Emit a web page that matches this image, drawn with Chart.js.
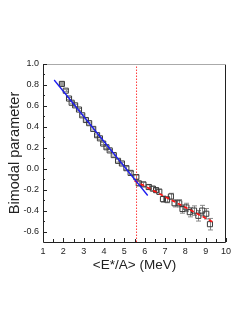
<!DOCTYPE html>
<html>
<head>
<meta charset="utf-8">
<script src="https://cdn.jsdelivr.net/npm/chart.js@4"></script>
<style>
  html, body { margin: 0; padding: 0; background: #fff; }
  #wrap { width: 243px; height: 324px; }
</style>
</head>
<body>
<div id="wrap"><canvas id="chartBimodal"></canvas></div>
<script>
// measured points: excitation energy, bimodal parameter, error
const energy = [
    1.93, 2.12, 2.28, 2.41, 2.58, 2.77, 2.93, 3.11, 3.27, 3.47, 3.66, 3.8,
    3.96, 4.12, 4.28, 4.48, 4.69, 4.88, 5.1, 5.31, 5.59, 5.71, 5.94, 6.2,
    6.4, 6.56, 6.72, 6.9, 7.1, 7.29, 7.47, 7.7, 7.86, 8.05, 8.22, 8.43,
    8.64, 8.83, 9.03, 9.21,
];
const bimodal = [
    0.81, 0.745, 0.67, 0.63, 0.605, 0.565, 0.51, 0.465, 0.435, 0.38, 0.32,
    0.29, 0.24, 0.205, 0.175, 0.13, 0.075, 0.05, 0.005, -0.04, -0.08, -0.14,
    -0.15, -0.175, -0.19, -0.205, -0.22, -0.29, -0.295, -0.265, -0.33, -0.33,
    -0.385, -0.37, -0.415, -0.4, -0.45, -0.4, -0.43, -0.53,
];
const bimodalErr = [
    0.01, 0.01, 0.01, 0.01, 0.01, 0.01, 0.01, 0.01, 0.01, 0.01, 0.01, 0.01,
    0.01, 0.01, 0.01, 0.01, 0.012, 0.012, 0.015, 0.015, 0.018, 0.02, 0.02,
    0.02, 0.02, 0.022, 0.025, 0.03, 0.03, 0.03, 0.035, 0.035, 0.04, 0.04,
    0.045, 0.045, 0.05, 0.05, 0.05, 0.055,
];

// linear fits and transition marker
const fitLowX = [1.55, 6.15];
const fitLowY = [0.847, -0.256];
const fitHighX = [5.5, 9.4];
const fitHighY = [-0.114, -0.513];
const transitionX = [5.6, 5.6];
const transitionY = [-0.7, 1.0];

const xTicks = [1, 2, 3, 4, 5, 6, 7, 8, 9, 10];
const yTicks = [-0.6, -0.4, -0.2, 0.0, 0.2, 0.4, 0.6, 0.8, 1.0];

const toPoints = (xs, ys) => xs.map((x, i) => ({ x: x, y: ys[i] }));

// error bars, frame and inward ticks
const frameAndErrors = {
    id: "frameAndErrors",
    beforeDatasetsDraw(chart) {
        const { ctx, scales } = chart;
        const x = scales.x;
        const y = scales.y;
        ctx.save();
        ctx.strokeStyle = "#8a8a8a";
        ctx.lineWidth = 1;
        energy.forEach((e, i) => {
            const px = Math.round(x.getPixelForValue(e)) + 0.5;
            const top = y.getPixelForValue(bimodal[i] + bimodalErr[i]);
            const bot = y.getPixelForValue(bimodal[i] - bimodalErr[i]);
            ctx.beginPath();
            ctx.moveTo(px, top);
            ctx.lineTo(px, bot);
            ctx.moveTo(px - 2.5, top);
            ctx.lineTo(px + 2.5, top);
            ctx.moveTo(px - 2.5, bot);
            ctx.lineTo(px + 2.5, bot);
            ctx.stroke();
        });
        ctx.restore();
    },
    afterDraw(chart) {
        const { ctx, chartArea: a, scales } = chart;
        ctx.save();
        ctx.lineWidth = 1;
        ctx.strokeStyle = "#222";
        ctx.beginPath();
        ctx.moveTo(a.left + 0.5, a.top);
        ctx.lineTo(a.left + 0.5, a.bottom + 0.5);
        ctx.lineTo(a.right - 0.5, a.bottom + 0.5);
        ctx.lineTo(a.right - 0.5, a.top);
        ctx.stroke();
        ctx.strokeStyle = "#aaa";
        ctx.beginPath();
        ctx.moveTo(a.left, a.top + 0.5);
        ctx.lineTo(a.right, a.top + 0.5);
        ctx.stroke();

        ctx.strokeStyle = "#222";
        ctx.beginPath();
        for (let v = -0.6; v <= 1.001; v += 0.1) {
            const py = Math.round(scales.y.getPixelForValue(v)) + 0.5;
            const major = Math.abs(Math.round(v * 10)) % 2 === 0;
            ctx.moveTo(a.left, py);
            ctx.lineTo(a.left + (major ? 4 : 2), py);
        }
        for (let v = 1; v <= 10; v += 0.5) {
            const px = Math.round(scales.x.getPixelForValue(v)) + 0.5;
            const major = Number.isInteger(v);
            ctx.moveTo(px, a.bottom);
            ctx.lineTo(px, a.bottom - (major ? 4 : 3));
        }
        ctx.stroke();
        ctx.restore();
    },
};

document.addEventListener("DOMContentLoaded", function () {
    const canvas = document.getElementById("chartBimodal");
    new Chart(canvas, {
        type: "scatter",
        data: {
            datasets: [
                {
                    label: "data",
                    data: toPoints(energy, bimodal),
                    pointStyle: "rect",
                    pointRadius: 3.6,
                    pointBorderWidth: 1,
                    pointBorderColor: "#3a3a3a",
                    pointBackgroundColor: (c) =>
                        c.dataIndex === 0 ? "#9a9a9a" : "rgba(0,0,0,0)",
                    order: 3,
                },
                {
                    type: "line",
                    label: "fit low",
                    data: toPoints(fitLowX, fitLowY),
                    borderColor: "#1c1cf0",
                    borderWidth: 1.3,
                    pointRadius: 0,
                    order: 1,
                },
                {
                    type: "line",
                    label: "fit high",
                    data: toPoints(fitHighX, fitHighY),
                    borderColor: "#ff1414",
                    borderWidth: 1.7,
                    borderDash: [4, 3],
                    pointRadius: 0,
                    order: 1,
                },
                {
                    type: "line",
                    label: "transition",
                    data: toPoints(transitionX, transitionY),
                    borderColor: "#ff3b3b",
                    borderWidth: 1,
                    borderDash: [1.5, 1.5],
                    pointRadius: 0,
                    order: 2,
                },
            ],
        },
        options: {
            responsive: true,
            maintainAspectRatio: false,
            animation: false,
            layout: { padding: { left: 0, right: 17, top: 64, bottom: 0 } },
            plugins: {
                legend: { display: false },
                tooltip: { enabled: false },
            },
            scales: {
                x: {
                    type: "linear",
                    min: 1,
                    max: 10,
                    afterFit: (s) => { s.height = 82; },
                    afterBuildTicks: (s) => {
                        s.ticks = xTicks.map((v) => ({ value: v }));
                    },
                    grid: { display: false, drawTicks: false },
                    border: { display: false },
                    ticks: {
                        padding: 4,
                        color: "#222",
                        font: { family: "Liberation Sans", size: 9 },
                    },
                    title: {
                        display: true,
                        text: "<E*/A> (MeV)",
                        color: "#222",
                        font: { family: "Liberation Sans", size: 13.5 },
                        padding: { bottom: 51 },
                    },
                },
                y: {
                    type: "linear",
                    min: -0.7,
                    max: 1.0,
                    afterFit: (s) => { s.width = 43; },
                    afterBuildTicks: (s) => {
                        s.ticks = yTicks.map((v) => ({ value: v }));
                    },
                    grid: { display: false, drawTicks: false },
                    border: { display: false },
                    ticks: {
                        padding: 4,
                        color: "#222",
                        font: { family: "Liberation Sans", size: 9 },
                        callback: (v) => v.toFixed(1),
                    },
                    title: {
                        display: true,
                        text: "Bimodal parameter",
                        color: "#222",
                        font: { family: "Liberation Sans", size: 14.5 },
                        padding: { top: 6 },
                    },
                },
            },
        },
        plugins: [frameAndErrors],
    });
});
</script>
</body>
</html>
